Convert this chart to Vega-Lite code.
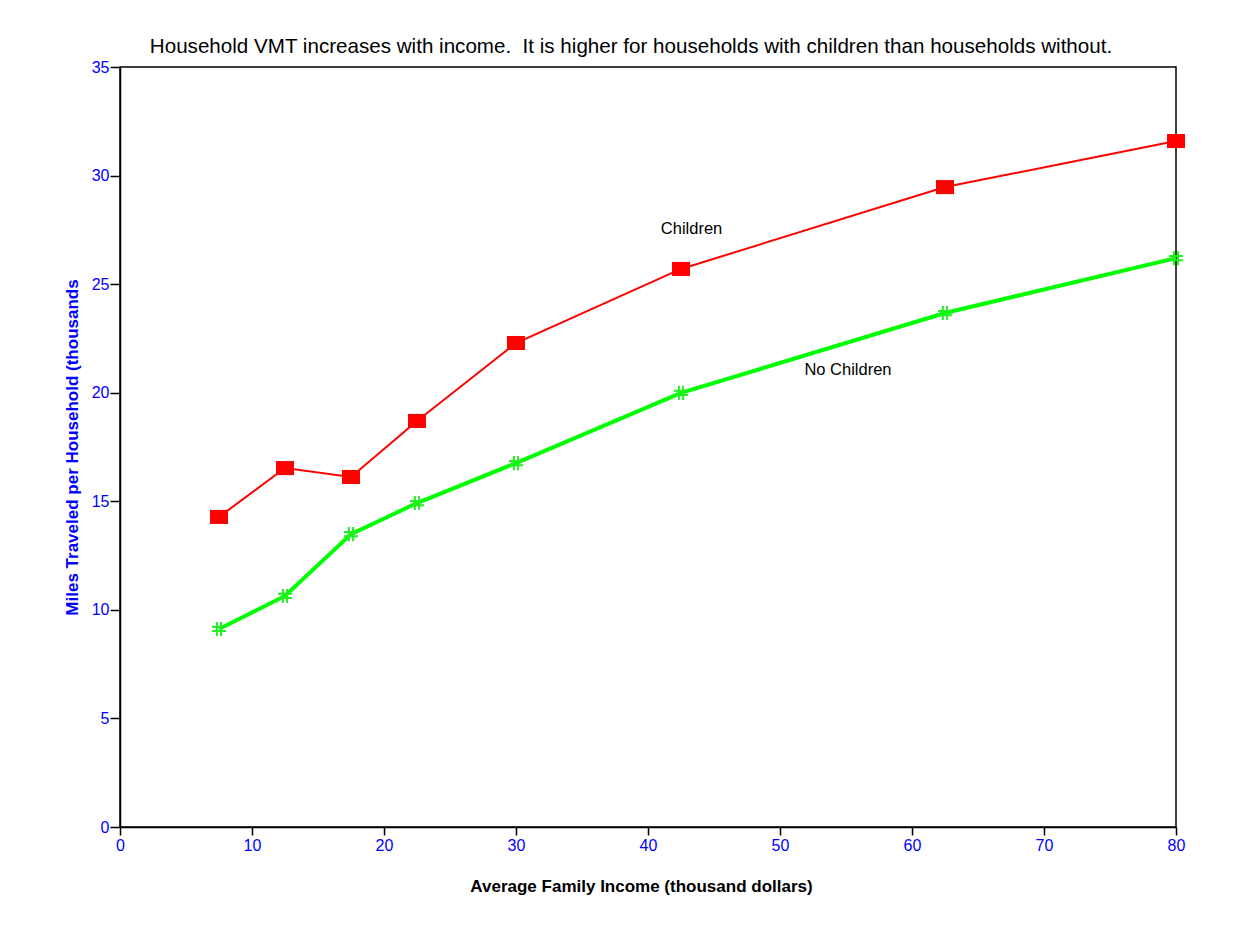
{
  "$schema": "https://vega.github.io/schema/vega-lite/v6.json",
  "autosize": "none",
  "width": 1056,
  "height": 760,
  "padding": {"left": 120, "top": 67, "right": 74, "bottom": 114},
  "background": "white",
  "title": {
    "text": "Household VMT increases with income. \u00a0It is higher for households with children than households without.",
    "font": "Liberation Sans",
    "fontSize": 20.6,
    "fontWeight": "normal",
    "color": "black",
    "anchor": "middle",
    "dx": -17,
    "offset": 1
  },
  "config": {
    "view": {"stroke": "black", "strokeWidth": 1.5},
    "axis": {
      "domainColor": "black",
      "domainWidth": 1.5,
      "tickColor": "black",
      "tickWidth": 1.5,
      "grid": false,
      "labelFlush": false,
      "labelFont": "Liberation Sans",
      "labelFontSize": 16,
      "labelColor": "#0000ff",
      "titleFont": "Liberation Sans",
      "titleFontSize": 17,
      "titleFontWeight": "bold"
    }
  },
  "datasets": {
    "vmt": [
      {"income": 7.5, "miles": 14.28, "series": "Children"},
      {"income": 12.5, "miles": 16.53, "series": "Children"},
      {"income": 17.5, "miles": 16.12, "series": "Children"},
      {"income": 22.5, "miles": 18.70, "series": "Children"},
      {"income": 30, "miles": 22.29, "series": "Children"},
      {"income": 42.5, "miles": 25.70, "series": "Children"},
      {"income": 62.5, "miles": 29.47, "series": "Children"},
      {"income": 80, "miles": 31.59, "series": "Children"},
      {"income": 7.5, "miles": 9.12, "series": "No Children"},
      {"income": 12.5, "miles": 10.64, "series": "No Children"},
      {"income": 17.5, "miles": 13.49, "series": "No Children"},
      {"income": 22.5, "miles": 14.92, "series": "No Children"},
      {"income": 30, "miles": 16.76, "series": "No Children"},
      {"income": 42.5, "miles": 19.99, "series": "No Children"},
      {"income": 62.5, "miles": 23.67, "series": "No Children"},
      {"income": 80, "miles": 26.20, "series": "No Children"}
    ],
    "labels": [
      {"income": 43.3, "miles": 27.54, "label": "Children"},
      {"income": 55.15, "miles": 21.05, "label": "No Children"}
    ]
  },
  "encoding": {
    "x": {
      "field": "income",
      "type": "quantitative",
      "scale": {"domain": [0, 80], "nice": false, "zero": false},
      "axis": {
        "values": [0, 10, 20, 30, 40, 50, 60, 70, 80],
        "title": "Average Family Income (thousand dollars)",
        "titleColor": "black",
        "titleX": 521,
        "tickSize": 8,
        "labelPadding": 2,
        "titlePadding": 25
      }
    },
    "y": {
      "field": "miles",
      "type": "quantitative",
      "scale": {"domain": [0, 35], "nice": false, "zero": false},
      "axis": {
        "values": [0, 5, 10, 15, 20, 25, 30, 35],
        "title": "Miles Traveled per Household (thousands",
        "titleColor": "#0000ff",
        "tickSize": 10,
        "labelPadding": 1,
        "titlePadding": 10
      }
    }
  },
  "layer": [
    {
      "data": {"name": "vmt"},
      "transform": [{"filter": "datum.series === 'Children'"}],
      "mark": {"type": "line", "color": "#ff0000", "strokeWidth": 2}
    },
    {
      "data": {"name": "vmt"},
      "transform": [{"filter": "datum.series === 'No Children'"}],
      "mark": {"type": "line", "color": "#00ff00", "strokeWidth": 4}
    },
    {
      "data": {"name": "vmt"},
      "transform": [{"filter": "datum.series === 'Children'"}],
      "mark": {"type": "point", "shape": "M-1,-0.78H1V0.78H-1Z", "filled": true, "color": "#ff0000", "opacity": 1, "size": 324}
    },
    {
      "data": {"name": "vmt"},
      "transform": [{"filter": "datum.series === 'No Children'"}],
      "mark": {"type": "point", "shape": "M-0.3,-1V1M0.3,-1V1M-1,-0.3H1M-1,0.3H1", "filled": false, "stroke": "#22ee22", "strokeWidth": 2, "opacity": 1, "size": 200}
    },
    {
      "data": {"name": "labels"},
      "mark": {"type": "text", "font": "Liberation Sans", "fontSize": 16.5, "color": "black", "align": "center", "baseline": "middle"},
      "encoding": {"text": {"field": "label"}}
    }
  ]
}
